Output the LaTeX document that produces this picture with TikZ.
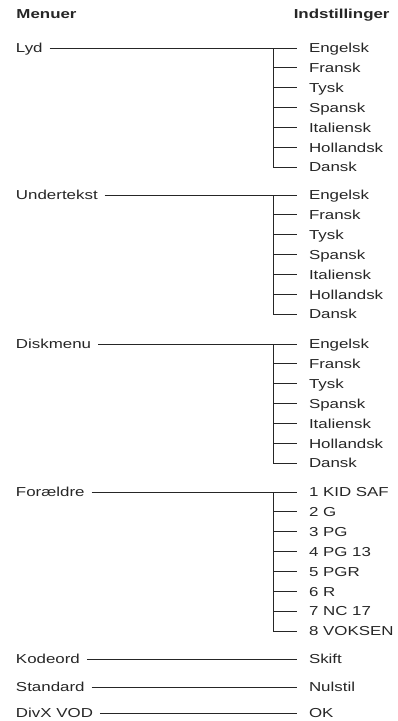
\documentclass[tikz,border=0pt]{standalone}
\usepackage{fontspec}
\setmainfont{Liberation Sans}[FakeStretch=1.3]
\begin{document}
\begin{tikzpicture}[x=1pt,y=-1pt,line width=0.9pt,black!85,
    every node/.style={inner sep=0pt,text height=9.5pt,text depth=0pt,
      font=\fontsize{13}{15}\selectfont,text=black!85},
    head/.style={font=\fontsize{13}{15}\selectfont\bfseries},
    menu/.style={anchor=west,outer xsep=7pt},
    valg/.style={anchor=west,outer xsep=12pt}]
  \useasboundingbox (0,0) rectangle (398,721);
  \node[head,anchor=west] (menuer) at (16,13.5) {Menuer};
  \node[head,anchor=east] (indst) at (390,13.5) {Indstillinger};
  % sprog-menuer
  \foreach \m/\y [count=\g] in {Lyd/48,Undertekst/195,Diskmenu/344} {
    \node[menu] (m\g) at (9,\y) {\m};
    \coordinate (bar\g) at (273,\y);
    \foreach \s [count=\i] in {Engelsk,Fransk,Tysk,Spansk,Italiensk,Hollandsk,Dansk}
      \node[valg] (v\g-\i) at (297,{\y+19.85*(\i-1)}) {\s};
    \draw (m\g.east) -- (v\g-1.west);
    \draw (bar\g) |- (v\g-7.west);
    \foreach \i in {2,...,6} \draw (v\g-\i.west -| bar\g) -- (v\g-\i.west);
  }
  % foraeldre
  \node[menu] (m4) at (9,492) {Forældre};
  \coordinate (bar4) at (273,492);
  \foreach \s [count=\i] in {1 KID SAF,2 G,3 PG,4 PG 13,5 PGR,6 R,7 NC 17,8 VOKSEN}
    \node[valg] (v4-\i) at (297,{492+19.85*(\i-1)}) {\s};
  \draw (m4.east) -- (v4-1.west);
  \draw (bar4) |- (v4-8.west);
  \foreach \i in {2,...,7} \draw (v4-\i.west -| bar4) -- (v4-\i.west);
  % enkle valg
  \foreach \m/\v/\y [count=\k] in {Kodeord/Skift/659,Standard/Nulstil/687,DivX VOD/OK/713} {
    \node[menu] (e\k) at (9,\y) {\m};
    \node[valg] (f\k) at (297,\y) {\v};
    \draw (e\k.east) -- (f\k.west);
  }
\end{tikzpicture}
\end{document}
